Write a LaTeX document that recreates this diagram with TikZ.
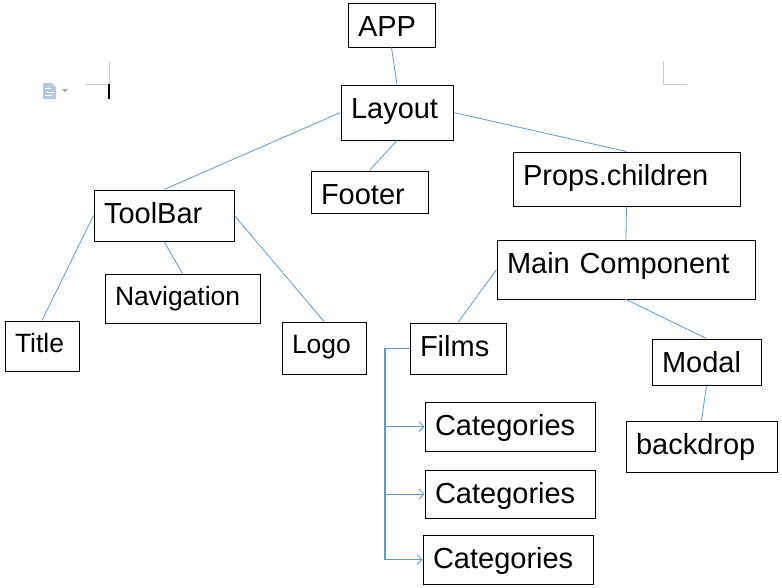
\documentclass[tikz,border=0pt]{standalone}
\usepackage{fontspec}
\setmainfont{Liberation Sans}
\usetikzlibrary{arrows.meta}
\definecolor{linkblue}{RGB}{91,155,213}
\definecolor{iconblue}{RGB}{180,200,232}
\definecolor{markgray}{RGB}{200,200,200}

\begin{document}
\begin{tikzpicture}[x=1pt, y=-1pt,
  comp/.style={draw, line width=1pt, inner xsep=10pt, inner ysep=0pt, align=left,
               font=\fontsize{29}{33}\selectfont, text height=33pt},
  small/.style={font=\fontsize{26.5}{30}\selectfont, text height=31.5pt},
  link/.style={draw=linkblue, line width=0.8pt},
  arr/.style={link, -{Straight Barb[length=5pt, width=10pt]}}
]
  \useasboundingbox (0,0) rectangle (782,587);

  \draw[markgray, line width=1pt] (109,61) -- (109,84) -- (86,84);
  \draw[markgray, line width=1pt] (663,61) -- (663,84) -- (687,84);
  \draw[line width=2pt] (109,84) -- (109,99);
  \fill[iconblue] (43,83) -- (52,83) -- (56,87) -- (56,99) -- (43,99) -- cycle;
  \draw[white, line width=1pt] (45,88) -- (51,88) (47,92) -- (54,92) (45,95) -- (52,95);
  \fill[gray!70] (62,89) -- (68,89) -- (65,92) -- cycle;

  \node[comp, text width=67pt,  minimum height=44pt, text depth=11pt] (app)      at (391.5,25)  {APP};
  \node[comp, text width=92pt,  minimum height=55pt, text depth=22pt] (layout)   at (397,112.5) {Layout};
  \node[comp, text width=97pt,  minimum height=42pt, text depth=9pt]  (footer)   at (369.5,192) {Footer};
  \node[comp, text width=207pt, minimum height=54pt, text depth=21pt] (props)    at (626.5,179) {Props.children};
  \node[comp, text width=238pt, minimum height=59pt, text depth=26pt] (main)     at (626,269.5) {Main Component};
  \node[comp, text width=89pt,  minimum height=46pt, text depth=13pt] (modal)    at (706.5,362) {Modal};
  \node[comp, text width=131pt, minimum height=51pt, text depth=18pt] (backdrop) at (701.5,446.5) {backdrop};
  \node[comp, text width=76pt,  minimum height=51pt, text depth=18pt] (films)    at (458,348.5) {Films};
  \node[comp, text width=150pt, minimum height=49pt, text depth=16pt] (cat1)     at (510,426.5) {Categories};
  \node[comp, text width=150pt, minimum height=48pt, text depth=15pt] (cat2)     at (510,494)   {Categories};
  \node[comp, text width=150pt, minimum height=49pt, text depth=16pt] (cat3)     at (508,559.5) {Categories};
  \node[comp, text width=120pt, minimum height=51pt, text depth=18pt] (toolbar)  at (164,215.5) {ToolBar};
  \node[comp, small, text width=135pt, minimum height=49pt, text depth=17.5pt] (nav)   at (182.5,298.5) {Navigation};
  \node[comp, small, text width=54pt,  minimum height=50pt, text depth=18.5pt] (title) at (42,346)       {Title};
  \node[comp, small, text width=64pt,  minimum height=52pt, text depth=20.5pt] (logo)  at (324,348)      {Logo};

  \draw[link] (app.south) -- (layout.north);
  \draw[link] (layout.west) -- (toolbar.north);
  \draw[link] (layout.south) -- (footer.north);
  \draw[link] (layout.east) -- (props.north);
  \draw[link] (props.south) -- (main.north);
  \draw[link] (main.west) -- (films.north);
  \draw[link] (main.south) -- (modal.north);
  \draw[link] (modal.south) -- (backdrop.north);
  \draw[link] (toolbar.west) -- (title.north);
  \draw[link] (toolbar.south) -- (nav.north);
  \draw[link] (toolbar.east) -- (logo.north);

  \coordinate (bus) at (385,0);
  \draw[link, line width=1.3pt] (films.west) -- (films.west -| bus) -- (bus |- cat3.west);
  \foreach \c in {cat1,cat2,cat3}
    \draw[arr] (bus |- \c.west) -- (\c.west);
\end{tikzpicture}
\end{document}
